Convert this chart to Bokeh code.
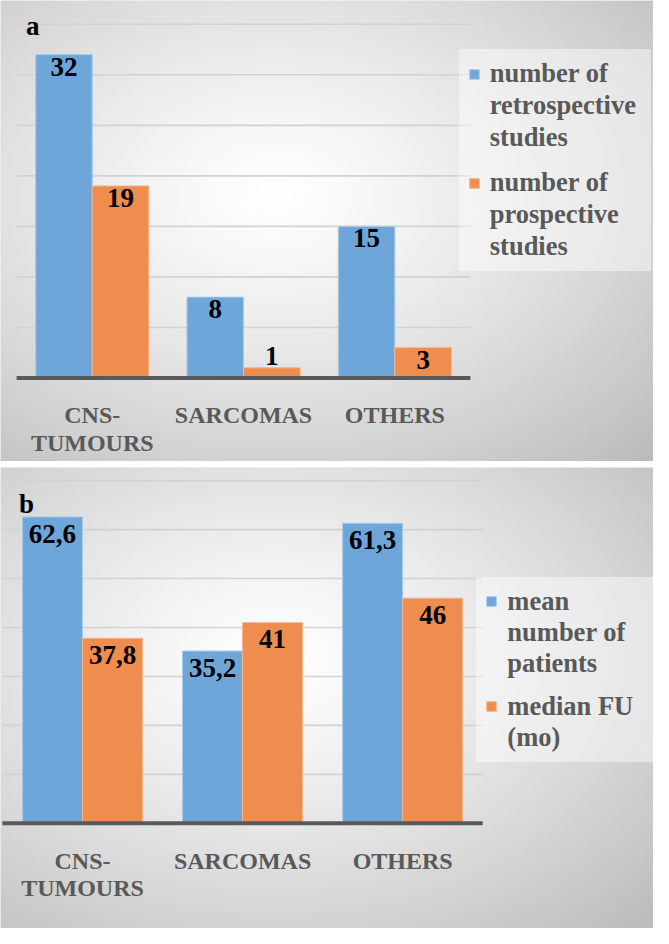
import numpy as np
from bokeh.plotting import figure
from bokeh.models import Range1d, ColumnDataSource, Legend, LegendItem
from bokeh.layouts import column
from bokeh.embed import file_html
from bokeh.resources import INLINE
from bokeh.core.properties import value

# ---------------- data ----------------
categories = ["CNS-\nTUMOURS", "SARCOMAS", "OTHERS"]

retrospective = [32, 8, 15]
prospective = [19, 1, 3]
names_a = ["number of\nretrospective\nstudies", "number of\nprospective\nstudies"]
grid_a = [5, 10, 15, 20, 25, 30, 35]

mean_patients = [62.6, 35.2, 61.3]
median_fu = [37.8, 41, 46]
names_b = ["mean\nnumber of\npatients", "median FU\n(mo)"]
grid_b = [10, 20, 30, 40, 50, 60, 70]

# ---------------- style ----------------
BLUE = "#6FA6DA"
ORANGE = "#EE8D4E"
TXT = "#595959"
FONT = "Liberation Serif"
W = 653
H = 461
REF_W, REF_H = 669, 469
SX, SY = W / REF_W, H / REF_H


def gradient(nx, ny, cx, cy):
    xs = np.linspace(0, 1, nx)
    ys = np.linspace(0, 1, ny)  # 0 = top
    X, Y = np.meshgrid(xs, ys)
    r = np.sqrt(((X - cx) / 0.6) ** 2 + ((Y - cy) / 0.6) ** 2)
    c = 255 - 46 * np.clip(r, 0, None) ** 1.25
    c = np.clip(c, 180, 255).astype(np.uint8)
    img = np.empty((ny, nx), dtype=np.uint32)
    v = img.view(dtype=np.uint8).reshape((ny, nx, 4))
    v[:, :, 0] = c
    v[:, :, 1] = c
    v[:, :, 2] = c
    v[:, :, 3] = 255
    return img[::-1]  # row 0 at bottom


def fmt(v):
    return f"{v:g}".replace(".", ",")


def panel(letter, s1, s2, names, grid_vals, x0px, catw, base, ppu, bw,
          lab_off, leg_left, leg_bottom, leg_label_w, leg_spacing, letter_px):
    px2x = lambda px: (px - x0px) / catw
    px2y = lambda py: (base - py) / ppu
    xr = Range1d(px2x(0), px2x(REF_W))
    yr = Range1d(px2y(REF_H), px2y(0))
    p = figure(width=W, height=H, x_range=xr, y_range=yr,
               output_backend="svg", toolbar_location=None,
               x_axis_location=None, y_axis_location=None,
               min_border=0, outline_line_color=None,
               background_fill_color="#e6e6e6", border_fill_color="#e6e6e6")
    p.grid.visible = False

    img = gradient(220, 160, 0.42, 0.42)
    p.image_rgba(image=[img], x=xr.start, y=yr.start,
                 dw=xr.end - xr.start, dh=yr.end - yr.start)

    n = len(categories)
    centers = np.arange(n) + 0.5
    # gridlines
    p.segment(x0=[0] * len(grid_vals), x1=[n] * len(grid_vals),
              y0=grid_vals, y1=grid_vals, line_color="#d2d2d2", line_width=1.6)

    r1 = p.vbar(x=centers - bw / 2, top=s1, width=bw, bottom=0,
                fill_color=BLUE, line_color="#a9cbec", line_width=1)
    r2 = p.vbar(x=centers + bw / 2, top=s2, width=bw, bottom=0,
                fill_color=ORANGE, line_color="#f5b58a", line_width=1)

    # baseline axis
    p.segment(x0=[0], x1=[n], y0=[0], y1=[0], line_color=TXT, line_width=4)

    # data labels
    xs, ys, texts, bls = [], [], [], []
    for xc, sv in ((centers - bw / 2, s1), (centers + bw / 2, s2)):
        for x, v in zip(xc, sv):
            xs.append(x)
            texts.append(fmt(v))
            if v * ppu < 20:
                ys.append(v + 3 / ppu)
                bls.append("bottom")
            else:
                ys.append(v - lab_off / ppu)
                bls.append("top")
    src = ColumnDataSource(dict(x=xs, y=ys, t=texts, b=bls))
    p.text(x="x", y="y", text="t", source=src, text_align="center",
           text_baseline="b", text_font=value(FONT), text_font_style="bold",
           text_font_size="27px", text_color="black")

    # category labels (one text per line)
    cx, cy, ct = [], [], []
    for c, name in zip(centers, categories):
        for k, line in enumerate(name.split("\n")):
            cx.append(c)
            cy.append(px2y(base + 38 + 28 * k))
            ct.append(line)
    p.text(x=cx, y=cy, text=ct, text_align="center", text_baseline="alphabetic",
           text_font=value(FONT), text_font_style="bold",
           text_font_size="24px", text_color=TXT)

    # panel letter
    p.text(x=[px2x(letter_px[0])], y=[px2y(letter_px[1])], text=[letter],
           text_align="left", text_baseline="alphabetic", text_font=value(FONT),
           text_font_style="bold", text_font_size="27px", text_color="black")

    # legend: marker beside the first line of each entry
    dummy = p.vbar(x=[], top=[], width=0.1, fill_alpha=0, line_alpha=0)
    items = []
    for gi, (name, rend) in enumerate(zip(names, (r1, r2))):
        if gi > 0:
            items.append(LegendItem(label="", renderers=[dummy]))
        lines = name.split("\n")
        items.append(LegendItem(label=lines[0], renderers=[rend]))
        for line in lines[1:]:
            items.append(LegendItem(label=line, renderers=[dummy]))
    legend = Legend(items=items,
                    location=(leg_left * SX, (REF_H - leg_bottom) * SY),
                    glyph_width=12, glyph_height=12, label_standoff=10,
                    spacing=leg_spacing, padding=9, margin=0,
                    label_width=leg_label_w,
                    label_text_font=FONT, label_text_font_style="bold",
                    label_text_font_size="26.5px", label_text_color=TXT,
                    background_fill_color="white", background_fill_alpha=0.45,
                    border_line_alpha=0)
    p.add_layout(legend)
    return p


pa = panel("a", retrospective, prospective, names_a, grid_a,
           x0px=16.5, catw=155, base=384, ppu=10.28, bw=0.374, lab_off=3,
           leg_left=470, leg_bottom=276, leg_label_w=152, leg_spacing=1,
           letter_px=(26, 26))
pb = panel("b", mean_patients, median_fu, names_b, grid_b,
           x0px=2, catw=164, base=362, ppu=4.98, bw=0.375, lab_off=8,
           leg_left=488, leg_bottom=300, leg_label_w=139, leg_spacing=0,
           letter_px=(19, 37))

layout = column(pa, pb, spacing=6)
open("out.html", "w").write(file_html(layout, INLINE))
